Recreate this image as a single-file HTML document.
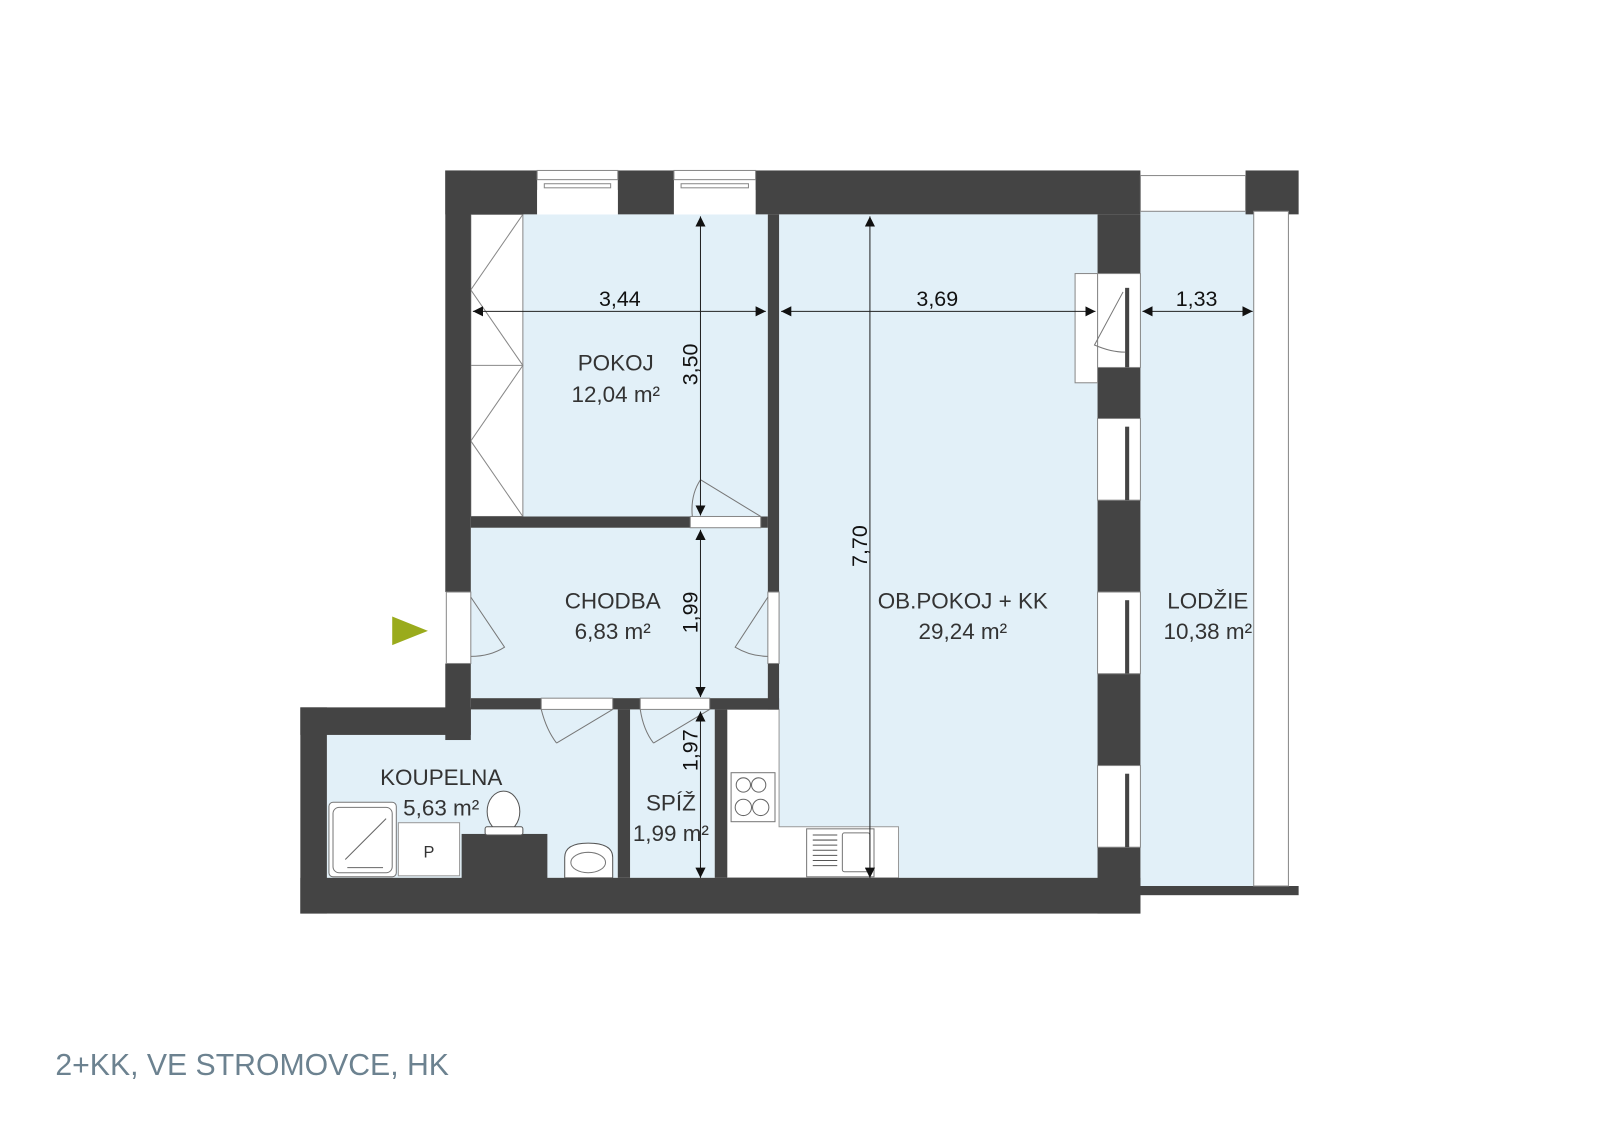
<!DOCTYPE html>
<html><head><meta charset="utf-8"><style>
html,body{margin:0;padding:0;background:#fff;}
svg{display:block;}
text{font-family:"Liberation Sans",Arial,sans-serif;}
</style></head><body>
<svg width="1600" height="1132" viewBox="0 0 1567 1109" xmlns="http://www.w3.org/2000/svg">
<defs>
<marker id="a" viewBox="0 0 10 10" refX="10" refY="5" markerWidth="10" markerHeight="10" markerUnits="userSpaceOnUse" orient="auto-start-reverse"><path d="M0,0L10,5L0,10z" fill="#111"/></marker>
</defs>
<rect width="1567" height="1109" fill="#fff"/>
<g fill="#e2f0f8">
<rect x="461" y="210" width="291" height="296"/>
<rect x="461" y="517" width="291" height="167"/>
<rect x="320" y="720" width="285" height="140"/>
<rect x="461" y="695" width="144" height="30"/>
<rect x="617" y="695" width="83" height="165"/>
<rect x="763" y="210" width="312" height="650"/>
<rect x="1117" y="207" width="111" height="661"/>
</g>
<rect x="461" y="210" width="51" height="296" fill="#fff" stroke="#888" stroke-width="1"/>
<polyline points="512,210 461,284 512,358 461,432 512,506" fill="none" stroke="#888" stroke-width="1"/>
<line x1="461" y1="358" x2="512" y2="358" stroke="#888"/>
<path d="M712,695 H763 V810 H880 V860 H712 Z" fill="#fff" stroke="#999" stroke-width="1"/>
<rect x="716" y="757" width="43" height="48" fill="#fff" stroke="#777"/>
<circle cx="728" cy="769" r="7" fill="none" stroke="#666"/><circle cx="743" cy="769" r="7" fill="none" stroke="#666"/>
<circle cx="728" cy="791" r="8" fill="none" stroke="#666"/><circle cx="745" cy="791" r="8" fill="none" stroke="#666"/>
<rect x="790" y="812" width="66" height="47" fill="#fff" stroke="#777"/>
<g stroke="#555"><line x1="796" y1="818" x2="820" y2="818"/><line x1="796" y1="823" x2="820" y2="823"/><line x1="796" y1="828" x2="820" y2="828"/><line x1="796" y1="833" x2="820" y2="833"/><line x1="796" y1="838" x2="820" y2="838"/><line x1="796" y1="843" x2="820" y2="843"/><line x1="796" y1="848" x2="820" y2="848"/></g>
<rect x="825" y="816" width="27" height="38" rx="2" fill="#fff" stroke="#777"/>
<rect x="322" y="786" width="66" height="73" rx="4" fill="#fff" stroke="#777"/>
<rect x="326" y="791" width="58" height="64" rx="6" fill="none" stroke="#777"/>
<line x1="338" y1="842" x2="378" y2="802" stroke="#666"/>
<line x1="340" y1="850" x2="375" y2="850" stroke="#666"/>
<rect x="390" y="806" width="60" height="52" fill="#fff" stroke="#999"/>
<text x="420" y="840" font-size="16" text-anchor="middle" fill="#333">P</text>
<rect x="452" y="817" width="84" height="45" fill="#444"/>
<ellipse cx="493" cy="795" rx="16" ry="20" fill="#fff" stroke="#555"/>
<rect x="475" y="810" width="37" height="8" rx="2" fill="#fff" stroke="#555"/>
<path d="M553,860 V840 Q553,826 576,826 Q600,826 600,840 V860 Z" fill="#fff" stroke="#555"/>
<ellipse cx="576" cy="845" rx="17" ry="10" fill="none" stroke="#777"/>
<g fill="#444">
<rect x="436" y="167" width="90" height="43"/>
<rect x="605" y="167" width="55" height="43"/>
<rect x="740" y="167" width="377" height="43"/>
<rect x="436" y="167" width="25" height="413"/>
<rect x="436" y="650" width="25" height="75"/>
<rect x="294" y="693" width="167" height="27"/>
<rect x="294" y="693" width="26" height="202"/>
<rect x="294" y="860" width="823" height="35"/>
<rect x="461" y="506" width="215" height="11"/>
<rect x="745" y="506" width="7" height="11"/>
<rect x="752" y="210" width="11" height="370"/>
<rect x="752" y="650" width="11" height="45"/>
<rect x="461" y="684" width="69" height="11"/>
<rect x="600" y="684" width="27" height="11"/>
<rect x="695" y="684" width="68" height="11"/>
<rect x="605" y="695" width="12" height="165"/>
<rect x="700" y="695" width="12" height="165"/>
<rect x="1075" y="210" width="42" height="58"/>
<rect x="1075" y="360" width="42" height="50"/>
<rect x="1075" y="490" width="42" height="90"/>
<rect x="1075" y="660" width="42" height="90"/>
<rect x="1075" y="830" width="42" height="65"/>
<rect x="1220" y="167" width="52" height="43"/>
<rect x="1117" y="868" width="155" height="9"/>
</g>
<g fill="#fff" stroke="#888" stroke-width="1">
<rect x="526" y="167" width="79" height="9"/><rect x="533" y="180" width="65" height="4"/>
<rect x="660" y="167" width="80" height="9"/><rect x="667" y="180" width="66" height="4"/>
<rect x="1117" y="172" width="103" height="35"/>
<rect x="1228" y="207" width="34" height="661"/>
</g>
<rect x="526" y="186" width="79" height="24" fill="#fff"/>
<rect x="660" y="186" width="80" height="24" fill="#fff"/>
<g fill="#fff" stroke="#888">
<rect x="1075" y="268" width="42" height="92"/>
<rect x="1075" y="410" width="42" height="80"/>
<rect x="1075" y="580" width="42" height="80"/>
<rect x="1075" y="750" width="42" height="80"/>
</g>
<g fill="#444"><rect x="1102" y="282" width="4" height="78"/><rect x="1102" y="418" width="4" height="72"/><rect x="1102" y="588" width="4" height="72"/><rect x="1102" y="758" width="4" height="72"/></g>
<rect x="1053" y="268" width="22" height="107" fill="#fff" stroke="#888"/>
<path d="M1100,286 L1072,338 Q1088,345 1102,345" fill="none" stroke="#777"/>
<g fill="#fff" stroke="#888">
<rect x="676" y="506" width="69" height="11"/>
<rect x="437" y="580" width="24" height="70"/>
<rect x="752" y="580" width="11" height="70"/>
<rect x="530" y="684" width="70" height="11"/>
<rect x="627" y="684" width="68" height="11"/>
</g>
<g fill="none" stroke="#777">
<path d="M686,470 L745,506 M686,470 Q676,485 678,506"/>
<path d="M461,585 L494,634 Q480,643 461,643"/>
<path d="M752,585 L720,634 Q735,643 752,643"/>
<path d="M600,695 L545,728 M530,695 Q535,715 545,728"/>
<path d="M695,695 L640,728 M627,695 Q630,715 640,728"/>
</g>
<path d="M384,604 L419,618 L384,632 Z" fill="#9aab1c"/>
<g stroke="#222" stroke-width="1" marker-start="url(#a)" marker-end="url(#a)">
<line x1="463" y1="305" x2="750" y2="305"/>
<line x1="765" y1="305" x2="1073" y2="305"/>
<line x1="1119" y1="305" x2="1227" y2="305"/>
<line x1="686" y1="212" x2="686" y2="505"/>
<line x1="686" y1="519" x2="686" y2="683"/>
<line x1="686" y1="697" x2="686" y2="860"/>
<line x1="852" y1="212" x2="852" y2="860"/>
</g>
<g font-size="21" fill="#111" text-anchor="middle">
<text x="607" y="300">3,44</text>
<text x="918" y="300">3,69</text>
<text x="1172" y="300">1,33</text>
<text transform="translate(683,357) rotate(-90)">3,50</text>
<text transform="translate(683,600) rotate(-90)">1,99</text>
<text transform="translate(683,735) rotate(-90)">1,97</text>
<text transform="translate(849,535) rotate(-90)">7,70</text>
</g>
<g font-size="22" fill="#333" text-anchor="middle">
<text x="603" y="363">POKOJ</text><text x="603" y="394">12,04 m²</text>
<text x="600" y="596">CHODBA</text><text x="600" y="626">6,83 m²</text>
<text x="943" y="596">OB.POKOJ + KK</text><text x="943" y="626">29,24 m²</text>
<text x="1183" y="596">LODŽIE</text><text x="1183" y="626">10,38 m²</text>
<text x="432" y="769">KOUPELNA</text><text x="432" y="799">5,63 m²</text>
<text x="657" y="794">SPÍŽ</text><text x="657" y="824">1,99 m²</text>
</g>
<text x="54" y="1053" font-size="29.6" fill="#6c8290">2+KK, VE STROMOVCE, HK</text>
</svg>
</body></html>
